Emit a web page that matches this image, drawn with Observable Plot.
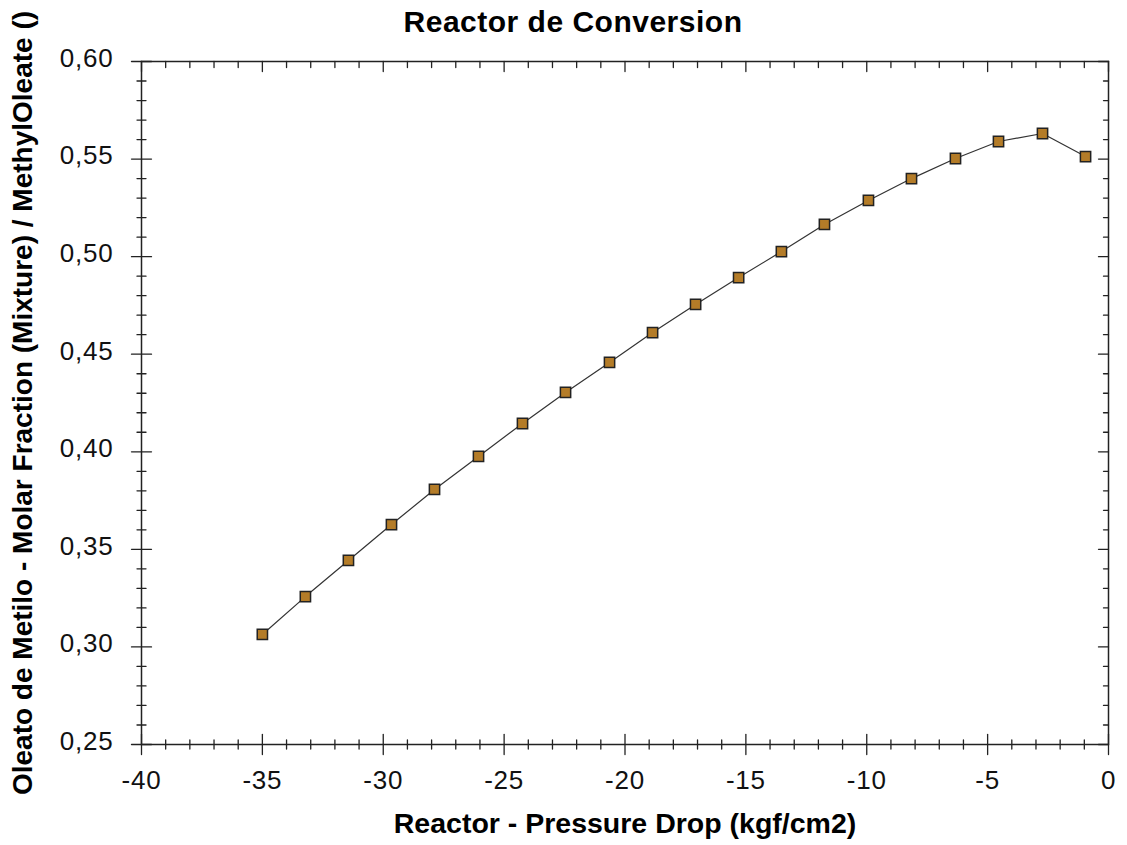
<!DOCTYPE html>
<html>
<head>
<meta charset="utf-8">
<script src="https://cdn.jsdelivr.net/npm/d3@7"></script>
<script src="https://cdn.jsdelivr.net/npm/@observablehq/plot@0.6"></script>
<style>
  html, body { margin: 0; padding: 0; background: #fff; }
  #chart svg { display: block; font-family: "Liberation Sans", Arial, sans-serif; }
  .ticklab text { letter-spacing: 0.8px; }
  .ttl text { letter-spacing: 0.5px; }
</style>
</head>
<body>
<div id="chart"></div>
<script>
// ---- Data ----
const pressureDrop = [-35.0, -33.22, -31.44, -29.66, -27.88, -26.06, -24.24, -22.46, -20.64, -18.86,
                      -17.08, -15.30, -13.53, -11.75, -9.93, -8.15, -6.33, -4.55, -2.73, -0.95];
const moleFraction = [0.3064, 0.3258, 0.3443, 0.3627, 0.3807, 0.3976, 0.4145, 0.4304, 0.4458, 0.4611,
                      0.4755, 0.4893, 0.5026, 0.5165, 0.5288, 0.5400, 0.5503, 0.5590, 0.5631, 0.5513];

const xTicks = [-40, -35, -30, -25, -20, -15, -10, -5, 0];
const yTicks = [0.25, 0.30, 0.35, 0.40, 0.45, 0.50, 0.55, 0.60];
const xMinorTicks = d3.range(-40, 1, 1).filter(v => v % 5 !== 0);
const yMinorTicks = d3.range(25, 61, 1).filter(v => v % 5 !== 0).map(v => v / 100);

const titleText = "Reactor de Conversion";
const xLabel = "Reactor - Pressure Drop (kgf/cm2)";
const yLabel = "Oleato de Metilo - Molar Fraction (Mixture) / MethylOleate ()";

const data = pressureDrop.map((x, i) => ({x, y: moleFraction[i]}));

// ---- Styles ----
const axisColor = "#222";
const tickShape = { draw(ctx, l) { ctx.moveTo(0, 0); ctx.lineTo(0, -l); } };
const tickStyle = { stroke: axisColor, strokeWidth: 1.3, shape: tickShape };

const chart = Plot.plot({
  width: 1127,
  height: 845,
  marginTop: 61,
  marginLeft: 141,
  marginRight: 19,
  marginBottom: 101,
  style: { fontFamily: "'Liberation Sans', Arial, sans-serif", background: "#fff" },
  x: { domain: [-40, 0] },
  y: { domain: [0.25, 0.60] },
  marks: [
    Plot.frame({ stroke: axisColor, strokeWidth: 1.5 }),
    // bottom axis ticks (crossing)
    Plot.vector(xTicks, { x: d => d, frameAnchor: "bottom", length: 20, rotate: 0, anchor: "middle", ...tickStyle }),
    Plot.vector(xMinorTicks, { x: d => d, frameAnchor: "bottom", length: 9, rotate: 0, anchor: "middle", ...tickStyle }),
    // left axis ticks (crossing)
    Plot.vector(yTicks, { y: d => d, frameAnchor: "left", length: 20, rotate: 90, anchor: "middle", ...tickStyle }),
    Plot.vector(yMinorTicks, { y: d => d, frameAnchor: "left", length: 9, rotate: 90, anchor: "middle", ...tickStyle }),
    // top axis ticks (inward)
    Plot.vector(xTicks, { x: d => d, frameAnchor: "top", length: 10, rotate: 180, anchor: "start", ...tickStyle }),
    Plot.vector(xMinorTicks, { x: d => d, frameAnchor: "top", length: 6, rotate: 180, anchor: "start", ...tickStyle }),
    // right axis ticks (inward)
    Plot.vector(yTicks, { y: d => d, frameAnchor: "right", length: 10, rotate: -90, anchor: "start", ...tickStyle }),
    Plot.vector(yMinorTicks, { y: d => d, frameAnchor: "right", length: 5, rotate: -90, anchor: "start", ...tickStyle }),
    // tick labels
    Plot.axisX({ ticks: xTicks, tickSize: 0, tickPadding: 26, tickFormat: d => String(d), fontSize: 26, fill: "#111", label: null, className: "ticklab" }),
    Plot.axisY({ ticks: yTicks, tickSize: 0, tickPadding: 28, tickFormat: d => d.toFixed(2).replace(".", ","), fontSize: 26, fill: "#111", label: null, dy: -3, className: "ticklab" }),
    // series
    Plot.line(data, { x: "x", y: "y", stroke: "#333", strokeWidth: 1.2 }),
    Plot.dot(data, { x: "x", y: "y", symbol: "square", r: 5.8, fill: "#B47C28", stroke: "#222", strokeWidth: 1.5 }),
    // title and axis titles
    Plot.text([titleText], { text: d => d, frameAnchor: "top", dx: -52, dy: -39, lineAnchor: "middle", textAnchor: "middle", fontSize: 30, fontWeight: "bold", fill: "#000", className: "ttl" }),
    Plot.text([xLabel], { text: d => d, frameAnchor: "bottom", dy: 79, lineAnchor: "middle", textAnchor: "middle", fontSize: 28.5, fontWeight: "bold", fill: "#000" }),
    Plot.text([yLabel], { text: d => d, frameAnchor: "left", dx: -118.5, rotate: -90, lineAnchor: "middle", textAnchor: "middle", fontSize: 28, fontWeight: "bold", fill: "#000" })
  ]
});

document.getElementById("chart").appendChild(chart);
</script>
</body>
</html>
